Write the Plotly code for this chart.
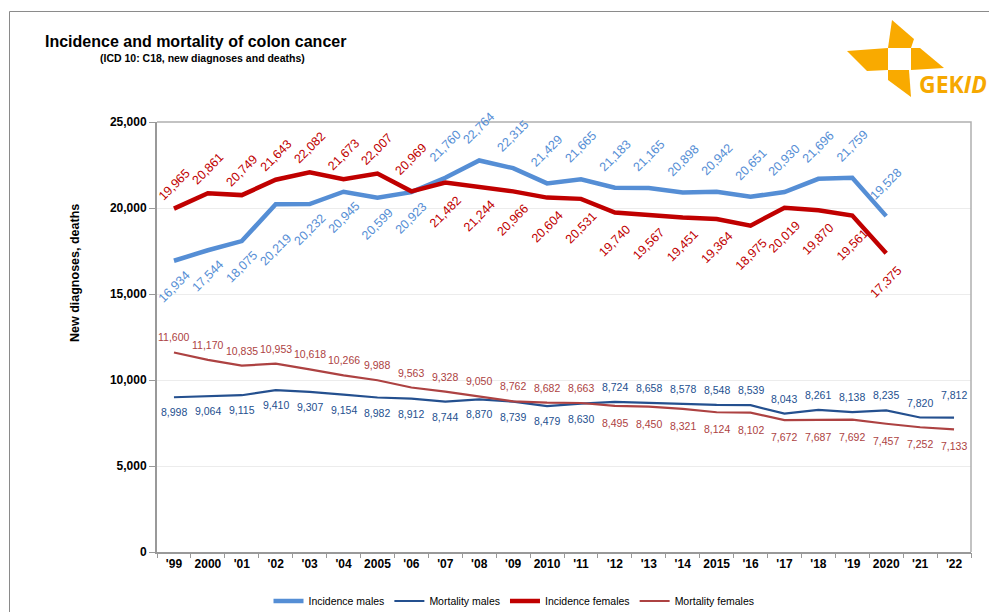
import plotly.graph_objects as go

# ---------------- data ----------------
years = ["'99", "2000", "'01", "'02", "'03", "'04", "2005", "'06", "'07", "'08", "'09", "2010",
         "'11", "'12", "'13", "'14", "2015", "'16", "'17", "'18", "'19", "2020", "'21", "'22"]

incidence_males = [16934, 17544, 18075, 20219, 20232, 20945, 20599, 20923, 21760, 22764, 22315,
                   21429, 21665, 21183, 21165, 20898, 20942, 20651, 20930, 21696, 21759, 19528]
incidence_females = [19965, 20861, 20749, 21643, 22082, 21673, 22007, 20969, 21482, 21244, 20966,
                     20604, 20531, 19740, 19567, 19451, 19364, 18975, 20019, 19870, 19561, 17375]
mortality_males = [8998, 9064, 9115, 9410, 9307, 9154, 8982, 8912, 8744, 8870, 8739, 8479,
                   8630, 8724, 8658, 8578, 8548, 8539, 8043, 8261, 8138, 8235, 7820, 7812]
mortality_females = [11600, 11170, 10835, 10953, 10618, 10266, 9988, 9563, 9328, 9050, 8762, 8682,
                     8663, 8495, 8450, 8321, 8124, 8102, 7672, 7687, 7692, 7457, 7252, 7133]

y_ticks = [0, 5000, 10000, 15000, 20000, 25000]

# ---------------- style ----------------
C_IM = "#558ED5"
C_IF = "#C00000"
C_MM = "#24508F"
C_MF = "#AD4242"
FONT = "Liberation Sans, Arial, sans-serif"

OFF = 8                      # page body margin
W, H = 997 - OFF, 612 - OFF
PW, PH = 814, 430
ML, MT = 157 - OFF, 122 - OFF
MR, MB = W - ML - PW, H - MT - PH


def px(x):  # page pixel -> paper
    return (x - OFF - ML) / PW


def py(y):
    return (MT + PH - (y - OFF)) / PH


fig = go.Figure()

idx = list(range(len(years)))

series = [
    ("Incidence males", incidence_males, C_IM, 4.5),
    ("Mortality males", mortality_males, C_MM, 2.2),
    ("Incidence females", incidence_females, C_IF, 4.5),
    ("Mortality females", mortality_females, C_MF, 2.2),
]
for name, vals, col, w in series:
    fig.add_trace(go.Scatter(
        x=idx[:len(vals)], y=vals, mode="lines", name=name,
        line=dict(color=col, width=w), hoverinfo="y"))

# label placement (style): side and pixel offset per series
n_inc = len(incidence_males)
im_side = ["below"] * 8 + ["above"] * (n_inc - 8)
if_side = ["above"] * 8 + ["below"] * (n_inc - 8)
mm_side = ["below"] * 13 + ["above"] * (len(mortality_males) - 13)
mf_side = ["above"] * 13 + ["below"] * (len(mortality_females) - 13)

label_specs = [
    (incidence_males, im_side, C_IM, -45, 12.5, {"above": 32, "below": -26}, {3: -20}),
    (incidence_females, if_side, C_IF, -45, 12.5, {"above": 24, "below": -29}, {6: 0, 7: 8}),
    (mortality_males, mm_side, C_MM, 0, 10.5, {"above": 15, "below": -15}, {23: 8}),
    (mortality_females, mf_side, C_MF, 0, 10.5, {"above": 15, "below": -17}, {}),
]

annotations = []
for vals, sides, col, ang, fs, offs, extra in label_specs:
    for i, v in enumerate(vals):
        annotations.append(dict(
            x=idx[i], y=v, xref="x", yref="y", text=f"{v:,}",
            showarrow=False, textangle=ang, xanchor="center", yanchor="middle",
            yshift=offs[sides[i]] + extra.get(i, 0),
            font=dict(family=FONT, size=fs, color=col)))

# titles
annotations.append(dict(x=px(43), y=py(42), xref="paper", yref="paper",
                        text="<b>Incidence and mortality of colon cancer</b>", showarrow=False,
                        xanchor="left", yanchor="middle",
                        font=dict(family=FONT, size=16, color="#000000")))
annotations.append(dict(x=px(98), y=py(58), xref="paper", yref="paper",
                        text="<b>(ICD 10: C18, new diagnoses and deaths)</b>", showarrow=False,
                        xanchor="left", yanchor="middle",
                        font=dict(family=FONT, size=10.5, color="#000000")))
annotations.append(dict(x=px(75), y=py(273), xref="paper", yref="paper",
                        text="<b>New diagnoses, deaths</b>", showarrow=False, textangle=-90,
                        xanchor="center", yanchor="middle",
                        font=dict(family=FONT, size=12.5, color="#000000")))
# logo text
annotations.append(dict(x=px(917), y=py(84), xref="paper", yref="paper",
                        text="<b>GEK<i>ID</i></b>", showarrow=False,
                        xanchor="left", yanchor="middle",
                        font=dict(family="Open Sans, sans-serif", size=23, color="#F6A800")))

# ---------------- shapes ----------------
def path(points):
    return "M " + " L ".join(f"{px(a):.5f},{py(b):.5f}" for a, b in points) + " Z"


LOGO = "#F9AA00"
blades = [
    [(892, 20), (914, 39), (911, 48), (888, 48)],
    [(847, 51), (888, 48), (888, 70), (867, 71)],
    [(911, 48), (920, 48), (944, 68), (911, 70)],
    [(888, 70), (909, 70), (911, 97), (888, 80)],
]
shapes = []
for b in blades:
    shapes.append(dict(type="path", xref="paper", yref="paper", path=path(b),
                       fillcolor=LOGO, line=dict(width=0), layer="above"))

# outer frame (top and left edges visible)
shapes.append(dict(type="path", xref="paper", yref="paper",
                   path=f"M {px(9.5):.5f},{py(640):.5f} L {px(9.5):.5f},{py(11.5):.5f} L {px(1040):.5f},{py(11.5):.5f}",
                   line=dict(color="#8a8a8a", width=1)))

# plot frame top/right lighter
shapes.append(dict(type="path", xref="paper", yref="paper",
                   path="M 0,1 L 1,1 L 1,0",
                   line=dict(color="#b0b0b0", width=1.5), layer="above"))

fig.update_layout(
    width=W, height=H,
    margin=dict(l=ML, r=MR, t=MT, b=MB, autoexpand=False),
    paper_bgcolor="white", plot_bgcolor="white",
    showlegend=True,
    legend=dict(orientation="h", x=px(514), y=py(601), xanchor="center", yanchor="middle",
                font=dict(family="Liberation Sans Narrow, Liberation Sans, Arial", size=10.5, color="#000"),
                itemwidth=30, bgcolor="rgba(0,0,0,0)", tracegroupgap=0),
    annotations=annotations,
    shapes=shapes,
    xaxis=dict(range=[-0.5, len(years) - 0.5], tickmode="array", tickvals=idx,
               ticktext=[f"<b>{y}</b>" for y in years], tickangle=0, automargin=False,
               showgrid=False, showline=True, linecolor="#999999", linewidth=1.5,
               ticks="", zeroline=False,
               tickfont=dict(family=FONT, size=12, color="#000")),
    xaxis2=dict(overlaying="x", range=[-0.5, len(years) - 0.5], tickmode="array",
                tickvals=[i - 0.5 for i in range(len(years) + 1)], ticktext=[""] * (len(years) + 1),
                side="bottom", anchor="y", ticks="outside", ticklen=5, tickcolor="#999999",
                showgrid=False, showline=False, zeroline=False, automargin=False),
    yaxis=dict(range=[0, 25000], tickvals=y_ticks, ticktext=[f"<b>{v:,}</b>" for v in y_ticks],
               showgrid=True, gridcolor="#ececec", gridwidth=1, automargin=False,
               showline=True, linecolor="#999999", linewidth=2,
               ticks="outside", ticklen=6, tickcolor="#999999",
               tickfont=dict(family=FONT, size=12, color="#000"), zeroline=False),
)
# dummy trace to activate the boundary-tick axis
fig.add_trace(go.Scatter(x=[None], y=[None], xaxis="x2", showlegend=False, hoverinfo="skip"))

fig.write_html("out.html")
